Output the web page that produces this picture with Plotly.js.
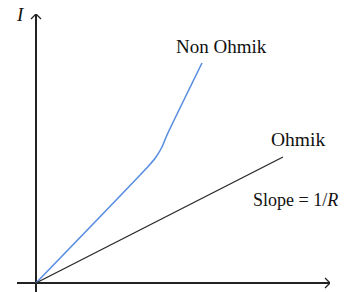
<!DOCTYPE html>
<html>
<head>
<meta charset="utf-8">
<script src="https://cdn.plot.ly/plotly-3.0.1.min.js"></script>
<style>html,body{margin:0;padding:0;background:#fff}#chart{width:362px;height:292px}</style>
</head>
<body>
<div id="chart"></div>
<script>
// Ohmic: straight line through origin
const ohmicV = [0, 24.7];
const ohmicI = [0, 12.6];
// Non-ohmic: two linear parts joined by a bend
const nonOhmicV = [0, 11.3, 12.0, 12.6, 13.1, 16.6];
const nonOhmicI = [0, 11.75, 12.6, 13.6, 14.8, 22.0];

const labelText = ['Non Ohmik', 'Ohmik', 'Slope = 1/<i>R</i>'];
const labelV = [18.5, 26.2, 25.9];
const labelI = [23.7, 14.4, 8.3];

const serif = 'Liberation Serif, Times New Roman, serif';

const traces = [
  {x: nonOhmicV, y: nonOhmicI, mode: 'lines', line: {color: '#5b8fe3', width: 1.6, shape: 'spline', smoothing: 0.6}, hoverinfo: 'skip'},
  {x: ohmicV, y: ohmicI, mode: 'lines', line: {color: '#2a2a2a', width: 1.4}, hoverinfo: 'skip'}
];

const labelSize = [19, 19.5, 18];
const annotations = labelText.map((t, i) => ({
  x: labelV[i], y: labelI[i], xref: 'x', yref: 'y', text: t, showarrow: false,
  font: {family: serif, size: labelSize[i], color: '#111'}
}));
annotations.push({x: -1.6, y: 26.9, xref: 'x', yref: 'y', text: '<i>I</i>', showarrow: false,
  font: {family: serif, size: 19, color: '#111'}});
annotations.push({x: 31.7, y: 0.5, xref: 'x', yref: 'y', text: '<i>V</i>', showarrow: false,
  font: {family: serif, size: 19, color: '#111'}});

const xr = [-1.9, 29.4];
const yr = [-0.9, 26.9];

const layout = {
  width: 362, height: 292,
  margin: {l: 17, r: 32, t: 14, b: 0},
  paper_bgcolor: '#fff', plot_bgcolor: '#fff',
  showlegend: false,
  xaxis: {range: xr, showgrid: false, showticklabels: false, ticks: '', showline: false,
          zeroline: true, zerolinecolor: '#222', zerolinewidth: 1.3, fixedrange: true},
  yaxis: {range: yr, showgrid: false, showticklabels: false, ticks: '', showline: false,
          zeroline: true, zerolinecolor: '#222', zerolinewidth: 1.3, fixedrange: true},
  annotations: annotations,
  shapes: [
    {type: 'path', xref: 'x', yref: 'y', xsizemode: 'pixel', ysizemode: 'pixel',
     xanchor: xr[1], yanchor: 0, path: 'M-5,5 L0,0 L-5,-5', line: {color: '#222', width: 1.3}},
    {type: 'path', xref: 'x', yref: 'y', xsizemode: 'pixel', ysizemode: 'pixel',
     xanchor: 0, yanchor: yr[1], path: 'M-5,-5 L0,0 L5,-5', line: {color: '#222', width: 1.3}}
  ]
};

Plotly.newPlot('chart', traces, layout, {staticPlot: true, displayModeBar: false});
</script>
</body>
</html>
